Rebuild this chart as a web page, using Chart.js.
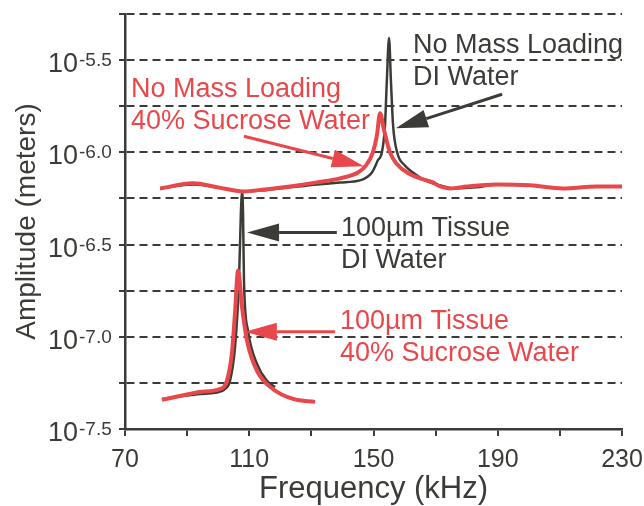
<!DOCTYPE html>
<html>
<head>
<meta charset="utf-8">
<script src="https://cdn.jsdelivr.net/npm/chart.js@4"></script>
<style>
  html, body { margin: 0; padding: 0; background: #fff; }
  #wrap { width: 644px; height: 506px; }
</style>
</head>
<body>
<div id="wrap"><canvas id="grafico" width="644" height="506"></canvas></div>
<script>
// Datos (frecuencia en kHz, amplitud como exponente log10 en metros)
const freqNoMassDI = [81.3, 91.9, 100.0, 108.0, 115.1, 123.1, 131.8, 139.2, 145.6, 149.5, 151.4, 152.7, 153.7, 154.3, 155.0, 155.6, 156.3, 157.6, 160.1, 162.7, 166.6, 171.4, 176.2, 183.0, 189.8, 200.4, 211.0, 221.9, 230.5];
const expNoMassDI  = [-6.196, -6.174, -6.190, -6.212, -6.205, -6.190, -6.174, -6.163, -6.152, -6.109, -6.043, -6.000, -5.853, -5.609, -5.380, -5.609, -5.853, -6.000, -6.071, -6.109, -6.152, -6.179, -6.196, -6.190, -6.174, -6.179, -6.196, -6.185, -6.185];

const freqNoMassSuc = [81.3, 91.9, 100.0, 108.0, 115.1, 123.1, 131.8, 139.2, 145.0, 147.6, 149.8, 151.1, 152.1, 153.4, 155.3, 157.6, 160.8, 165.0, 169.1, 171.5, 174.6, 180.0, 189.8, 200.4, 211.0, 221.9, 230.3];
const expNoMassSuc  = [-6.196, -6.168, -6.190, -6.212, -6.201, -6.185, -6.163, -6.141, -6.109, -6.071, -6.000, -5.908, -5.788, -5.880, -6.000, -6.065, -6.109, -6.141, -6.163, -6.185, -6.196, -6.185, -6.174, -6.179, -6.196, -6.185, -6.185];

const freqTissueDI = [81.9, 94.1, 99.0, 102.2, 103.8, 105.4, 106.7, 107.3, 107.7, 108.0, 108.3, 109.6, 112.5, 115.7, 118.3];
const expTissueDI  = [-7.337, -7.310, -7.304, -7.283, -7.239, -7.060, -6.696, -6.332, -6.217, -6.332, -6.696, -6.967, -7.147, -7.239, -7.272];

const freqTissueSuc = [81.9, 88.0, 94.1, 100.6, 102.8, 104.4, 105.4, 106.4, 107.7, 109.3, 112.5, 117.6, 124.1, 131.2];
const expTissueSuc  = [-7.342, -7.320, -7.299, -7.283, -7.239, -7.092, -6.875, -6.641, -6.842, -7.022, -7.185, -7.283, -7.337, -7.353];

const gridExps  = [-7.5, -7.25, -7.0, -6.75, -6.5, -6.25, -6.0, -5.75, -5.5, -5.25];
const labelExps = [-7.5, -7.0, -6.5, -6.0, -5.5];
const xLabels   = [70, 110, 150, 190, 230];

const NEGRO = '#3b3b37';
const ROJO = '#e8474b';
const FUENTE = "'Liberation Sans', Arial, sans-serif";
const Y_MIN = Math.pow(10, -7.5);
const Y_MAX = Math.pow(10, -5.25);

// Anotaciones: ancla del texto y flecha en unidades de datos
const notas = [
  { lineas: ['No Mass Loading', 'DI Water'], color: NEGRO, texto: [162.7, -5.462], cola: [191.4, -5.685], punta: [157.2, -5.870] },
  { lineas: ['No Mass Loading', '40% Sucrose Water'], color: ROJO, texto: [71.9, -5.701], cola: [108.3, -5.913], punta: [146.9, -6.076] },
  { lineas: ['100µm Tissue', 'DI Water'], color: NEGRO, texto: [139.5, -6.451], cola: [138.2, -6.435], punta: [109.3, -6.435] },
  { lineas: ['100µm Tissue', '40% Sucrose Water'], color: ROJO, texto: [139.2, -6.957], cola: [137.6, -6.973], punta: [108.6, -6.973] }
];

const puntos = (fs, es) => fs.map((f, i) => ({ x: f, y: Math.pow(10, es[i]) }));

function serie(fs, es, color, ancho, orden) {
  return {
    data: puntos(fs, es),
    borderColor: color,
    borderWidth: ancho,
    pointRadius: 0,
    cubicInterpolationMode: 'monotone',
    order: orden
  };
}

const pluginEtiquetas = {
  id: 'etiquetas',
  afterDraw(chart) {
    const ctx = chart.ctx;
    const xs = chart.scales.x, ys = chart.scales.y;
    ctx.save();

    // etiquetas del eje Y con exponente
    ctx.fillStyle = NEGRO;
    ctx.textBaseline = 'alphabetic';
    labelExps.forEach(e => {
      const y = ys.getPixelForValue(Math.pow(10, e));
      ctx.font = '27px ' + FUENTE;
      ctx.textAlign = 'right';
      ctx.fillText('10', 78, y + 12);
      ctx.font = '19px ' + FUENTE;
      ctx.textAlign = 'left';
      ctx.fillText(e.toFixed(1), 79, y + 6);
    });

    // textos y flechas
    notas.forEach(n => {
      ctx.fillStyle = n.color;
      ctx.strokeStyle = n.color;
      ctx.font = '27px ' + FUENTE;
      ctx.textAlign = 'left';
      const tx = xs.getPixelForValue(n.texto[0]);
      const ty = ys.getPixelForValue(Math.pow(10, n.texto[1]));
      n.lineas.forEach((l, i) => ctx.fillText(l, tx, ty + i * 32));

      const x0 = xs.getPixelForValue(n.cola[0]), y0 = ys.getPixelForValue(Math.pow(10, n.cola[1]));
      const x1 = xs.getPixelForValue(n.punta[0]), y1 = ys.getPixelForValue(Math.pow(10, n.punta[1]));
      const ang = Math.atan2(y1 - y0, x1 - x0);
      const largo = 32, medio = 9;
      const bx = x1 - largo * Math.cos(ang), by = y1 - largo * Math.sin(ang);
      ctx.lineWidth = 3;
      ctx.beginPath();
      ctx.moveTo(x0, y0);
      ctx.lineTo(bx, by);
      ctx.stroke();
      ctx.beginPath();
      ctx.moveTo(x1, y1);
      ctx.lineTo(bx + medio * Math.sin(ang), by - medio * Math.cos(ang));
      ctx.lineTo(bx - medio * Math.sin(ang), by + medio * Math.cos(ang));
      ctx.closePath();
      ctx.fill();
    });
    ctx.restore();
  }
};

Chart.defaults.font.family = FUENTE;
Chart.defaults.color = NEGRO;

new Chart(document.getElementById('grafico').getContext('2d'), {
  type: 'line',
  data: {
    datasets: [
      serie(freqNoMassDI, expNoMassDI, NEGRO, 2.5, 2),
      serie(freqNoMassSuc, expNoMassSuc, ROJO, 4, 1),
      serie(freqTissueDI, expTissueDI, NEGRO, 2.5, 2),
      serie(freqTissueSuc, expTissueSuc, ROJO, 4, 1)
    ]
  },
  options: {
    responsive: false,
    animation: false,
    layout: { padding: { top: 14, right: 22, left: 0, bottom: 0 } },
    plugins: { legend: { display: false }, tooltip: { enabled: false } },
    scales: {
      x: {
        type: 'linear',
        min: 70,
        max: 230,
        afterFit: s => { s.height = 77; s.paddingLeft = 0; s.paddingRight = 0; },
        ticks: {
          stepSize: 20,
          autoSkip: false,
          maxRotation: 0,
          padding: 9,
          color: NEGRO,
          font: { size: 25 },
          callback: v => xLabels.includes(v) ? String(v) : ''
        },
        grid: { drawOnChartArea: false, color: NEGRO, lineWidth: 2, tickLength: 7 },
        border: { color: NEGRO, width: 2.5 },
        title: { display: true, text: 'Frequency (kHz)', color: NEGRO, font: { size: 31, lineHeight: 1.05 }, padding: { bottom: 0 } }
      },
      y: {
        type: 'logarithmic',
        min: Y_MIN,
        max: Y_MAX,
        afterBuildTicks: s => {
          s.ticks = gridExps.map(e => ({ value: Math.pow(10, e) }));
          s.min = Y_MIN;
          s.max = Y_MAX;
        },
        afterFit: s => { s.width = 125; },
        ticks: { display: false },
        grid: { color: NEGRO, lineWidth: 2, tickBorderDash: [], tickLength: 6, tickColor: NEGRO },
        border: { color: NEGRO, width: 2.5, dash: [8, 5] },
        title: { display: true, text: 'Amplitude (meters)', color: NEGRO, font: { size: 28 }, padding: { top: 10 } }
      }
    }
  },
  plugins: [pluginEtiquetas]
});
</script>
</body>
</html>
